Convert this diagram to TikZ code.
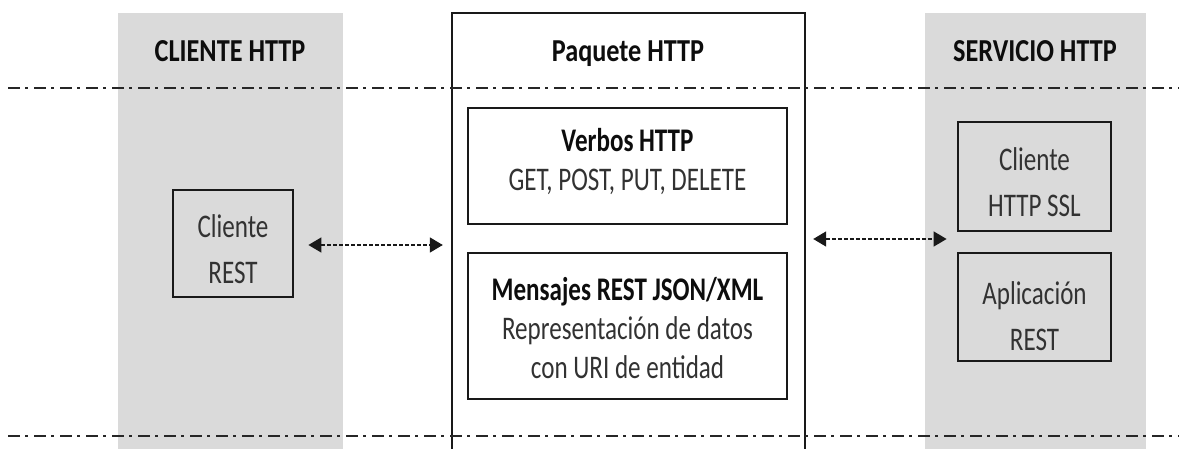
\documentclass[tikz,border=0pt]{standalone}
\usepackage{fontspec}
\setmainfont{Carlito}[FakeStretch=0.76]
\newfontfamily\ttlfont{Carlito}[FakeStretch=0.82]
\usetikzlibrary{arrows.meta}
\definecolor{colgray}{RGB}{218,218,218}
\definecolor{txtgray}{RGB}{50,50,50}
\begin{document}
\begin{tikzpicture}[x=1pt,y=-1pt,
 column/.style={fill=colgray,draw=none,inner sep=0pt},
 title/.style={font=\ttlfont\fontsize{32}{36}\selectfont\bfseries,text=black!95,anchor=base},
 box/.style={draw=black!90,line width=2.8pt,inner sep=0pt},
 sidetext/.style={inner sep=0pt,align=center,text=txtgray,font=\fontsize{33}{46}\selectfont},
 midtext/.style={inner sep=0pt,align=center,text=txtgray,font=\fontsize{33}{39}\selectfont},
 dashdot/.style={line width=1.8pt,dash pattern=on 12pt off 5pt on 3pt off 6pt,draw=black!85},
 pkgline/.style={line width=2.4pt,draw=black!90},
 arr/.style={line width=1.6pt,dash pattern=on 4pt off 2pt,draw=black!90,
   {Triangle[length=13pt,width=15pt]}-{Triangle[length=13pt,width=15pt]}}
]
\useasboundingbox (0,0) rectangle (1179,449);
% columns
\node[column,minimum width=225pt,minimum height=436pt] (colL) at (230.5,231) {};
\node[column,minimum width=221pt,minimum height=436pt] (colR) at (1035.5,231) {};
% package frame
\node[inner sep=0pt,minimum width=353pt,minimum height=440pt] (pkg) at (628.5,233) {};
\draw[pkgline] (pkg.south west) -- (pkg.north west) -- (pkg.north east) -- (pkg.south east);
% dash-dot lines
\draw[dashdot] (8,88) -- (1179,88);
\draw[dashdot] (8,436) -- (1179,436);
% titles
\node[title] (tL) at (230,62) {CLIENTE HTTP};
\node[title] (tC) at (628,62) {Paquete HTTP};
\node[title] (tR) at (1035,62) {SERVICIO HTTP};
% boxes
\node[box,minimum width=120pt,minimum height=107pt] (clirest) at (233,243.5) {};
\node[box,minimum width=319pt,minimum height=116pt] (verbos) at (627.5,166) {};
\node[box,minimum width=319pt,minimum height=146pt] (msg) at (627.5,326) {};
\node[box,minimum width=153pt,minimum height=109pt] (ssl) at (1034.5,176.5) {};
\node[box,minimum width=153pt,minimum height=108pt] (app) at (1034.5,307) {};
% box texts
\node[sidetext] (clirestT) at ([yshift=-6pt]clirest.center) {Cliente\\REST};
\node[midtext] (verbosT) at ([yshift=4pt]verbos.center) {{\bfseries\color{black!95}Verbos HTTP}\\GET, POST, PUT, DELETE};
\node[midtext] (msgT) at ([yshift=-2.5pt]msg.center) {{\bfseries\color{black!95}Mensajes REST JSON/XML}\\Representación de datos\\con URI de entidad};
\node[sidetext] (sslT) at ([yshift=-6pt]ssl.center) {Cliente\\HTTP SSL};
\node[sidetext] (appT) at ([yshift=-9pt]app.center) {Aplicación\\REST};
% arrows
\draw[arr] ([xshift=14pt,yshift=-1.5pt]clirest.east) -- ([xshift=-9pt,yshift=-1.5pt]clirest.east -| pkg.west);
\coordinate (ry) at (0,239);
\draw[arr] ([xshift=8pt]ry -| pkg.east) -- ([xshift=-10pt]ry -| ssl.west);
\end{tikzpicture}
\end{document}
